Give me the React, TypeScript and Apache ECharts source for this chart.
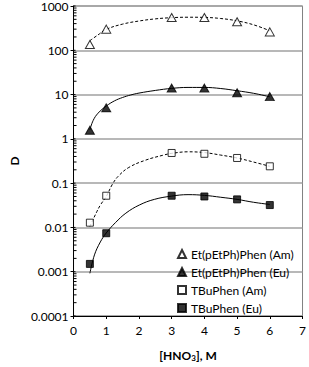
import React, { useEffect, useRef } from "react";
import * as echarts from "echarts";

// ---- data ----
const X_POINTS = [0.5, 1, 3, 4, 5, 6];
const ET_AM = [135, 300, 550, 550, 440, 260];
const ET_EU = [1.57, 5, 14, 14, 11, 9];
const TBU_AM = [0.0128, 0.052, 0.48, 0.46, 0.37, 0.24];
const TBU_EU = [0.0015, 0.0074, 0.052, 0.05, 0.043, 0.032];

// trend-line curves
const ET_AM_FIT_X = [0.5, 0.75, 1, 1.5, 2, 2.5, 3, 3.5, 4, 4.5, 5, 5.5, 6];
const ET_AM_FIT_Y = [165, 223, 297, 390, 458, 512, 545, 558, 553, 522, 462, 377, 276];
const ET_EU_FIT_X = [0.5, 0.6, 0.75, 1, 1.25, 1.5, 1.75, 2, 2.5, 3, 3.5, 4, 4.5, 5, 5.5, 6];
const ET_EU_FIT_Y = [1.6, 2.6, 3.8, 5.5, 7.2, 8.6, 9.8, 10.8, 12.4, 13.8, 14.5, 14.5, 13.7, 12.2, 10.7, 8.9];
const TBU_AM_FIT_X = [0.5, 0.69, 0.82, 1, 1.19, 1.37, 1.69, 2.2, 2.75, 3, 3.5, 4, 4.5, 5, 5.5, 6];
const TBU_AM_FIT_Y = [0.0105, 0.021, 0.032, 0.05, 0.095, 0.144, 0.226, 0.33, 0.43, 0.47, 0.51, 0.49, 0.43, 0.37, 0.3, 0.24];
const TBU_EU_FIT_X = [0.5, 0.64, 0.82, 1, 1.28, 1.6, 2.01, 2.47, 3, 3.5, 4, 4.5, 5, 5.5, 6];
const TBU_EU_FIT_Y = [0.00092, 0.0024, 0.0047, 0.0075, 0.0128, 0.021, 0.032, 0.043, 0.051, 0.055, 0.053, 0.048, 0.043, 0.037, 0.033];

const SERIES_NAMES = [
  "Et(pEtPh)Phen (Am)",
  "Et(pEtPh)Phen (Eu)",
  "TBuPhen (Am)",
  "TBuPhen (Eu)",
];

// y-axis decades and minor-tick multipliers
const DECADES = [0.0001, 0.001, 0.01, 0.1, 1, 10, 100];
const MINOR_MULTS = [2, 3, 4, 5, 6, 7, 8, 9];

const FONT = "Lato";

const zip = (xs: number[], ys: number[]) => xs.map((x, i) => [x, ys[i]]);

export default function App() {
  const ref = useRef<HTMLDivElement>(null);
  useEffect(() => {
    document.body.style.margin = "0";
    if (!ref.current) return;
    const chart = echarts.init(ref.current, null, { renderer: "svg" });

    const minorData: number[][] = [];
    DECADES.forEach((d) => MINOR_MULTS.forEach((m) => minorData.push([0, m * d])));
    const majorData: number[][] = DECADES.concat([1000]).map((d) => [0, d]);

    const openStyle = { color: "#fff", borderColor: "#000", borderWidth: 1 };
    const fillStyle = { color: "#000", borderColor: "#000", borderWidth: 1 };

    const fitLine = (name: string, xs: number[], ys: number[], dashed: boolean) => ({
      name,
      type: "line",
      data: zip(xs, ys),
      smooth: 0.4,
      showSymbol: false,
      symbol: "none",
      silent: true,
      z: 1,
      lineStyle: { color: "#000", width: 1, type: dashed ? [3, 2] : "solid" },
    });

    const tickSeries = (data: number[][], len: number) => ({
      type: "custom",
      silent: true,
      clip: false,
      z: 5,
      data,
      encode: { x: 0, y: 1 },
      renderItem: (params: any, api: any) => {
        const p = api.coord([api.value(0), api.value(1)]);
        return {
          type: "line",
          shape: { x1: p[0], y1: p[1], x2: p[0] + len, y2: p[1] },
          style: { stroke: "#000", lineWidth: 1 },
        };
      },
    });

    chart.setOption({
      animation: false,
      textStyle: { fontFamily: FONT },
      grid: {
        left: 49,
        top: 5,
        right: 5,
        bottom: 39,
        show: true,
        borderColor: "#808080",
        borderWidth: 1,
      },
      legend: {
        orient: "vertical",
        left: 177,
        top: 247,
        padding: 0,
        itemWidth: 8,
        itemHeight: 8,
        itemGap: 4,
        data: SERIES_NAMES,
        textStyle: { fontFamily: FONT, fontSize: 12, color: "#000", lineHeight: 14 },
        selectedMode: false,
      },
      xAxis: {
        type: "value",
        min: 0,
        max: 7,
        interval: 1,
        name: "[HNO{s|3}], M",
        nameLocation: "middle",
        nameGap: 32,
        nameTextStyle: {
          fontFamily: FONT,
          fontSize: 12,
          fontWeight: "bold",
          color: "#000",
          rich: { s: { fontSize: 8, fontWeight: "bold", verticalAlign: "bottom", padding: [6, 0, 0, 0], fontFamily: FONT } },
        },
        axisLine: { onZero: false, lineStyle: { color: "#000", width: 1 } },
        axisTick: { show: true, length: 3, lineStyle: { color: "#000" } },
        axisLabel: { fontFamily: FONT, fontSize: 12, color: "#000", margin: 8 },
        splitLine: { show: false },
      },
      yAxis: {
        type: "log",
        logBase: 10,
        min: 0.0001,
        max: 1000,
        splitNumber: 7,
        name: "D",
        nameLocation: "middle",
        nameGap: 50,
        nameRotate: 90,
        nameTextStyle: { fontFamily: FONT, fontSize: 12, fontWeight: "bold", color: "#000" },
        axisLine: { show: true, lineStyle: { color: "#000", width: 1 } },
        axisTick: { show: true, length: 3, lineStyle: { color: "#000" } },
        minorTick: { show: false },
        axisLabel: {
          fontFamily: FONT,
          fontSize: 12,
          color: "#000",
          margin: 5,
          formatter: (v: number) => {
            const n = Number(v);
            return n >= 1 ? String(Math.round(n)) : String(Number(n.toPrecision(1)));
          },
        },
        splitLine: { show: true, lineStyle: { color: "#a0a0a0", width: 1.5 } },
      },
      series: [
        fitLine("fitEtAm", ET_AM_FIT_X, ET_AM_FIT_Y, true),
        fitLine("fitEtEu", ET_EU_FIT_X, ET_EU_FIT_Y, false),
        fitLine("fitTbuAm", TBU_AM_FIT_X, TBU_AM_FIT_Y, true),
        fitLine("fitTbuEu", TBU_EU_FIT_X, TBU_EU_FIT_Y, false),
        {
          name: SERIES_NAMES[0],
          type: "scatter",
          symbol: "triangle",
          symbolSize: [9, 8],
          itemStyle: openStyle,
          data: zip(X_POINTS, ET_AM),
          z: 3,
        },
        {
          name: SERIES_NAMES[1],
          type: "scatter",
          symbol: "triangle",
          symbolSize: [9, 8],
          itemStyle: fillStyle,
          data: zip(X_POINTS, ET_EU),
          z: 3,
        },
        {
          name: SERIES_NAMES[2],
          type: "scatter",
          symbol: "rect",
          symbolSize: 7,
          itemStyle: openStyle,
          data: zip(X_POINTS, TBU_AM),
          z: 3,
        },
        {
          name: SERIES_NAMES[3],
          type: "scatter",
          symbol: "rect",
          symbolSize: 7,
          itemStyle: fillStyle,
          data: zip(X_POINTS, TBU_EU),
          z: 3,
        },
        tickSeries(minorData, 3),
        tickSeries(majorData, 2),
      ],
    });
    return () => chart.dispose();
  }, []);
  return <div ref={ref} style={{ width: 309, height: 367 }} />;
}
